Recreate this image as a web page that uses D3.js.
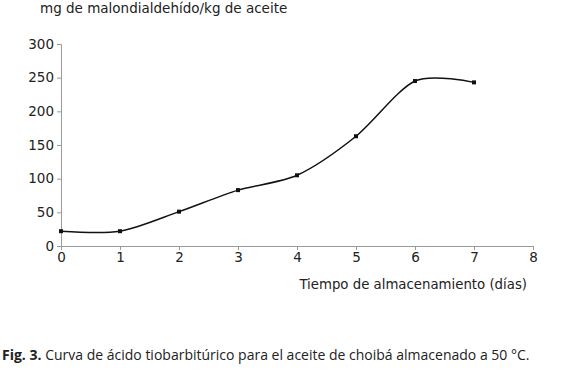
<!DOCTYPE html>
<html>
<head>
<meta charset="utf-8">
<script src="https://cdn.jsdelivr.net/npm/d3@7"></script>
<style>
  body { margin: 0; background: #fff; }
  svg { display: block; }
</style>
</head>
<body>
<svg id="chart" width="580" height="370"></svg>
<script>
// ---- data ----
const days = [0, 1, 2, 3, 4, 5, 6, 7];
const tba = [22, 22, 51, 83, 105, 163, 245, 243];
const xTicks = [0, 1, 2, 3, 4, 5, 6, 7, 8];
const yTicks = [0, 50, 100, 150, 200, 250, 300];

const data = days.map((d, i) => ({ day: d, value: tba[i] }));

const svg = d3.select("#chart");
const font = "'DejaVu Sans', Verdana, sans-serif";
const axisColor = "#9a9a9a";

const margin = { top: 44, right: 47, bottom: 124, left: 61 };
const innerWidth = 580 - margin.left - margin.right;
const innerHeight = 370 - margin.top - margin.bottom;

const g = svg.append("g")
  .attr("transform", `translate(${margin.left},${margin.top})`);

const x = d3.scaleLinear().domain([0, 8]).range([0, innerWidth]);
const y = d3.scaleLinear().domain([0, 300]).range([innerHeight, 0]);

// x axis
g.append("g")
  .attr("transform", `translate(0,${innerHeight})`)
  .call(d3.axisBottom(x).tickValues(xTicks).tickFormat(d3.format("d")).tickSizeOuter(0).tickSize(4).tickPadding(2))
  .call((g) => g.select(".domain").attr("stroke", axisColor))
  .call((g) => g.selectAll("line").attr("stroke", axisColor))
  .call((g) => g.selectAll("text").attr("fill", "#222").style("font-family", font).style("font-size", "13.5px"));

// y axis
g.append("g")
  .call(d3.axisLeft(y).tickValues(yTicks).tickSizeOuter(0).tickSize(4).tickPadding(3))
  .call((g) => g.select(".domain").attr("stroke", axisColor))
  .call((g) => g.selectAll("line").attr("stroke", axisColor))
  .call((g) => g.selectAll("text").attr("fill", "#222").style("font-family", font).style("font-size", "13.5px"));

// axis titles
svg.append("text")
  .attr("x", 40)
  .attr("y", 13)
  .attr("fill", "#222")
  .style("font-family", font)
  .style("font-size", "13.5px")
  .text("mg de malondialdehído/kg de aceite");

svg.append("text")
  .attr("x", 527)
  .attr("y", 289)
  .attr("text-anchor", "end")
  .attr("fill", "#222")
  .style("font-family", font)
  .style("font-size", "13.3px")
  .text("Tiempo de almacenamiento (días)");

// smoothed line
const line = d3.line()
  .x((d) => x(d.day))
  .y((d) => y(d.value))
  .curve(d3.curveCardinal.tension(0.15));

g.append("path")
  .datum(data)
  .attr("fill", "none")
  .attr("stroke", "#111")
  .attr("stroke-width", 1.5)
  .attr("d", line);

g.selectAll("rect.pt")
  .data(data)
  .join("rect")
  .attr("class", "pt")
  .attr("x", (d) => x(d.day) - 2)
  .attr("y", (d) => y(d.value) - 2)
  .attr("width", 4)
  .attr("height", 4)
  .attr("fill", "#111");

// caption
const cap = svg.append("text")
  .attr("x", 2)
  .attr("y", 360)
  .attr("fill", "#222")
  .style("font-family", "'Open Sans', sans-serif")
  .style("font-size", "14px");
cap.append("tspan").attr("font-weight", "bold").text("Fig. 3.");
cap.append("tspan").text(" Curva de ácido tiobarbitúrico para el aceite de choibá almacenado a 50 °C.");
</script>
</body>
</html>
